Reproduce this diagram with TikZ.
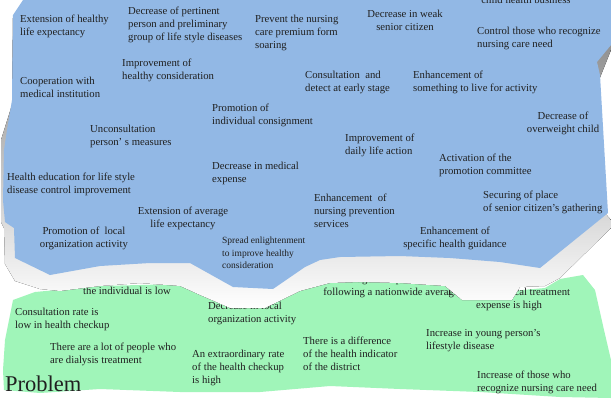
\documentclass[tikz,border=0pt]{standalone}
\usepackage{fontspec}
\setmainfont{Liberation Serif}
\definecolor{plan}{HTML}{92B8E5}
\definecolor{issue}{HTML}{A0F5B9}
\definecolor{shade}{HTML}{C0C0C0}
\definecolor{ink}{HTML}{202020}
\tikzset{
  txt/.style={font=\fontsize{10.7}{12.8}\selectfont,text=ink,inner sep=0pt,align=left,anchor=north west},
  ctxt/.style={txt,align=center,anchor=north},
  stxt/.style={txt,font=\fontsize{9.5}{12.4}\selectfont},
  big/.style={txt,font=\fontsize{22.5}{25}\selectfont},
}
\begin{document}
\begin{tikzpicture}[x=1pt,y=-1pt]
\useasboundingbox (0,0) rectangle (611,400);
\clip (0,0) rectangle (611,400);
\fill[white] (0,0) rectangle (611,400);
\fill[issue] (13,300) -- (35,292) -- (100,286) -- (180,284) -- (240,296) -- (300,284) -- (360,272) -- (440,280)
  -- (500,292) -- (545,288) -- (560,279) -- (583,275) -- (595,290) -- (604,330) -- (611,360) -- (611,398)
  -- (560,397) -- (480,392) -- (400,389) -- (330,386) -- (260,392) -- (180,392) -- (100,389) -- (40,393)
  -- (4,390) -- (3,370) -- (5,340) -- cycle;
\node[txt] (lowind) at (83,287) {the individual is low};
\node[txt] (checkup) at (15,308) {Consultation rate is\\low in health checkup};
\node[txt] (localdec) at (208,302) {Decrease in local\\organization activity};
\node[txt] (dialysis) at (50,343) {There are a lot of people who\\are dialysis treatment};
\node[txt] (rate) at (192,350) {An extraordinary rate\\of the health checkup\\is high};
\node[txt] (district) at (303,337) {There is a difference\\of the health indicator\\of the district};
\node[ctxt] (nationwide) at (391,275) {Average life span is short\\following a nationwide average};
\node[ctxt] (treatment) at (509,288) {Per capita medical treatment\\expense is high};
\node[txt] (young) at (426,329) {Increase in young person’s\\lifestyle disease};
\node[txt] (recognize) at (477,371) {Increase of those who\\recognize nursing care need};
\node[big] (problem) at (5,376) {Problem};
\fill[shade] (24,2) -- (611,2) -- (611,50) -- (599,80) -- (604,212) -- (611,220) -- (611,228) -- (560,278)
  -- (545,286) -- (520,287) -- (512,300) -- (462,300) -- (445,286) -- (400,283) -- (360,282) -- (330,283)
  -- (300,291) -- (265,308) -- (230,308) -- (200,295) -- (180,286) -- (140,283) -- (100,286) -- (60,291)
  -- (40,289) -- (15,281) -- (5,264) -- (4,228) -- (1,222) -- (1,140) -- (12,105) -- (13,18) -- cycle;
\fill[plan] (23,0) -- (611,0) -- (611,45) -- (597,62) -- (600,75) -- (608,213) -- (540,268) -- (500,262)
  -- (450,258) -- (400,256) -- (340,257) -- (320,260) -- (305,267) -- (273,289) -- (233,287) -- (190,263)
  -- (150,263) -- (100,266) -- (50,275) -- (15,258) -- (14,228) -- (5,222) -- (3,200) -- (4,150) -- (7,130)
  -- (12,100) -- (13,15) -- cycle;
\node[txt] (healthylife) at (20,15) {Extension of healthy\\life expectancy};
\node[txt] (pertinent) at (128,7) {Decrease of pertinent\\person and preliminary\\group of life style diseases};
\node[txt] (premium) at (255,15) {Prevent the nursing\\care premium form\\soaring};
\node[ctxt] (weak) at (405,10) {Decrease in weak\\senior citizen};
\node[ctxt] (child) at (526,-4.5) {child health business};
\node[txt] (control) at (477,27) {Control those who recognize\\nursing care need};
\node[txt] (consider) at (122,59) {Improvement of\\healthy consideration};
\node[txt] (medical) at (20,77) {Cooperation with\\medical institution};
\node[txt] (early) at (305,71) {Consultation \ and\\detect at early stage};
\node[txt] (live) at (413,71) {Enhancement of\\something to live for activity};
\node[txt] (consign) at (212,104) {Promotion of\\individual consignment};
\node[ctxt] (overweight) at (563,112) {Decrease of\\overweight child};
\node[txt] (unconsult) at (90,125) {Unconsultation\\person’ s measures};
\node[txt] (daily) at (345,134) {Improvement of\\daily life action};
\node[txt] (education) at (7,173) {Health education for life style\\disease control improvement};
\node[txt] (expense) at (212,162) {Decrease in medical\\expense};
\node[txt] (committee) at (439,154) {Activation of the\\promotion committee};
\node[txt] (gathering) at (483,191) {Securing of place\\of senior citizen's gathering};
\node[txt] (prevention) at (314,194) {Enhancement \ of\\nursing prevention\\services};
\node[ctxt] (average) at (183,207) {Extension of average\\life expectancy};
\node[ctxt] (local) at (84,227) {Promotion of \ local\\organization activity};
\node[stxt] (enlighten) at (222,237) {Spread enlightenment\\to improve healthy\\consideration};
\node[ctxt] (guidance) at (455,227) {Enhancement of\\specific health guidance};
\end{tikzpicture}
\end{document}
